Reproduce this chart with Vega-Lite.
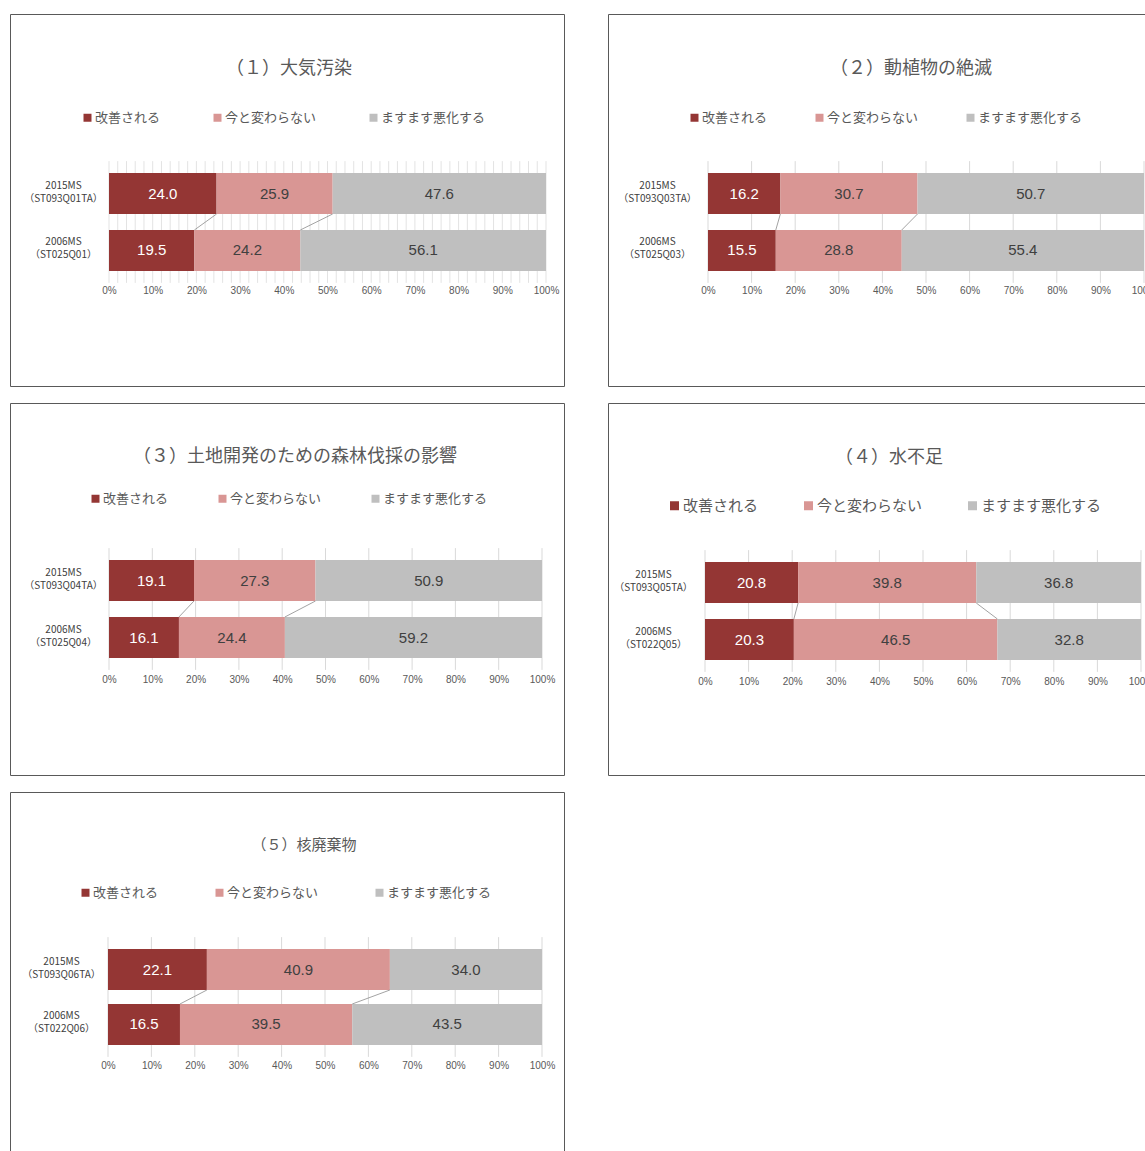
{
  "$schema": "https://vega.github.io/schema/vega-lite/v6.json",
  "background": "white",
  "padding": {"left": 9, "top": 13, "right": 0, "bottom": 0},
  "columns": 2,
  "spacing": {"row": 15, "column": 42},
  "resolve": {"scale": {"color": "independent", "x": "independent", "y": "independent"}, "legend": {"color": "independent"}},
  "data": {"name": "d"},
  "datasets": {
    "d": [
      {"p": 1, "row": "2015MS|（ST093Q01TA）", "yr": "2015MS", "resp": "改善される", "o": 0, "v": 24.0},
      {"p": 1, "row": "2015MS|（ST093Q01TA）", "yr": "2015MS", "resp": "今と変わらない", "o": 1, "v": 25.9},
      {"p": 1, "row": "2015MS|（ST093Q01TA）", "yr": "2015MS", "resp": "ますます悪化する", "o": 2, "v": 47.6},
      {"p": 1, "row": "2006MS|（ST025Q01）", "yr": "2006MS", "resp": "改善される", "o": 0, "v": 19.5},
      {"p": 1, "row": "2006MS|（ST025Q01）", "yr": "2006MS", "resp": "今と変わらない", "o": 1, "v": 24.2},
      {"p": 1, "row": "2006MS|（ST025Q01）", "yr": "2006MS", "resp": "ますます悪化する", "o": 2, "v": 56.1},
      {"p": 2, "row": "2015MS|（ST093Q03TA）", "yr": "2015MS", "resp": "改善される", "o": 0, "v": 16.2},
      {"p": 2, "row": "2015MS|（ST093Q03TA）", "yr": "2015MS", "resp": "今と変わらない", "o": 1, "v": 30.7},
      {"p": 2, "row": "2015MS|（ST093Q03TA）", "yr": "2015MS", "resp": "ますます悪化する", "o": 2, "v": 50.7},
      {"p": 2, "row": "2006MS|（ST025Q03）", "yr": "2006MS", "resp": "改善される", "o": 0, "v": 15.5},
      {"p": 2, "row": "2006MS|（ST025Q03）", "yr": "2006MS", "resp": "今と変わらない", "o": 1, "v": 28.8},
      {"p": 2, "row": "2006MS|（ST025Q03）", "yr": "2006MS", "resp": "ますます悪化する", "o": 2, "v": 55.4},
      {"p": 3, "row": "2015MS|（ST093Q04TA）", "yr": "2015MS", "resp": "改善される", "o": 0, "v": 19.1},
      {"p": 3, "row": "2015MS|（ST093Q04TA）", "yr": "2015MS", "resp": "今と変わらない", "o": 1, "v": 27.3},
      {"p": 3, "row": "2015MS|（ST093Q04TA）", "yr": "2015MS", "resp": "ますます悪化する", "o": 2, "v": 50.9},
      {"p": 3, "row": "2006MS|（ST025Q04）", "yr": "2006MS", "resp": "改善される", "o": 0, "v": 16.1},
      {"p": 3, "row": "2006MS|（ST025Q04）", "yr": "2006MS", "resp": "今と変わらない", "o": 1, "v": 24.4},
      {"p": 3, "row": "2006MS|（ST025Q04）", "yr": "2006MS", "resp": "ますます悪化する", "o": 2, "v": 59.2},
      {"p": 4, "row": "2015MS|（ST093Q05TA）", "yr": "2015MS", "resp": "改善される", "o": 0, "v": 20.8},
      {"p": 4, "row": "2015MS|（ST093Q05TA）", "yr": "2015MS", "resp": "今と変わらない", "o": 1, "v": 39.8},
      {"p": 4, "row": "2015MS|（ST093Q05TA）", "yr": "2015MS", "resp": "ますます悪化する", "o": 2, "v": 36.8},
      {"p": 4, "row": "2006MS|（ST022Q05）", "yr": "2006MS", "resp": "改善される", "o": 0, "v": 20.3},
      {"p": 4, "row": "2006MS|（ST022Q05）", "yr": "2006MS", "resp": "今と変わらない", "o": 1, "v": 46.5},
      {"p": 4, "row": "2006MS|（ST022Q05）", "yr": "2006MS", "resp": "ますます悪化する", "o": 2, "v": 32.8},
      {"p": 5, "row": "2015MS|（ST093Q06TA）", "yr": "2015MS", "resp": "改善される", "o": 0, "v": 22.1},
      {"p": 5, "row": "2015MS|（ST093Q06TA）", "yr": "2015MS", "resp": "今と変わらない", "o": 1, "v": 40.9},
      {"p": 5, "row": "2015MS|（ST093Q06TA）", "yr": "2015MS", "resp": "ますます悪化する", "o": 2, "v": 34.0},
      {"p": 5, "row": "2006MS|（ST022Q06）", "yr": "2006MS", "resp": "改善される", "o": 0, "v": 16.5},
      {"p": 5, "row": "2006MS|（ST022Q06）", "yr": "2006MS", "resp": "今と変わらない", "o": 1, "v": 39.5},
      {"p": 5, "row": "2006MS|（ST022Q06）", "yr": "2006MS", "resp": "ますます悪化する", "o": 2, "v": 43.5}
    ],
    "fine": [
      {"t": 0}, {"t": 0.02}, {"t": 0.04}, {"t": 0.06}, {"t": 0.08}, {"t": 0.1}, {"t": 0.12}, {"t": 0.14}, {"t": 0.16}, {"t": 0.18},
      {"t": 0.2}, {"t": 0.22}, {"t": 0.24}, {"t": 0.26}, {"t": 0.28}, {"t": 0.3}, {"t": 0.32}, {"t": 0.34}, {"t": 0.36}, {"t": 0.38},
      {"t": 0.4}, {"t": 0.42}, {"t": 0.44}, {"t": 0.46}, {"t": 0.48}, {"t": 0.5}, {"t": 0.52}, {"t": 0.54}, {"t": 0.56}, {"t": 0.58},
      {"t": 0.6}, {"t": 0.62}, {"t": 0.64}, {"t": 0.66}, {"t": 0.68}, {"t": 0.7}, {"t": 0.72}, {"t": 0.74}, {"t": 0.76}, {"t": 0.78},
      {"t": 0.8}, {"t": 0.82}, {"t": 0.84}, {"t": 0.86}, {"t": 0.88}, {"t": 0.9}, {"t": 0.92}, {"t": 0.94}, {"t": 0.96}, {"t": 0.98}, {"t": 1}
    ],
    "tens": [
      {"t": 0}, {"t": 0.1}, {"t": 0.2}, {"t": 0.3}, {"t": 0.4}, {"t": 0.5}, {"t": 0.6}, {"t": 0.7}, {"t": 0.8}, {"t": 0.9}, {"t": 1}
    ]
  },
  "concat": [
    {
      "width": 554, "height": 372,
      "title": {"text": "（１）大気汚染", "dx": 2, "offset": -64},
      "layer": [
        {
          "data": {"name": "fine"},
          "mark": {"type": "rule", "color": "#e3e3e3", "strokeWidth": 1},
          "encoding": {
            "x": {"field": "t", "type": "quantitative", "title": null},
            "y": {"datum": "2015MS|（ST093Q01TA）", "type": "nominal", "bandPosition": -0.29, "title": null},
            "y2": {"datum": "2006MS|（ST025Q01）", "bandPosition": 1.29}
          }
        },
        {
          "transform": [
            {"filter": "datum.p == 1"},
            {"stack": "v", "groupby": ["row"], "sort": [{"field": "o"}], "offset": "normalize", "as": ["x0", "x1"]}
          ],
          "mark": {"type": "bar"},
          "encoding": {
            "y": {"field": "row", "type": "nominal", "title": null,
              "scale": {"domain": ["2015MS|（ST093Q01TA）", "2006MS|（ST025Q01）"], "range": [159, 257], "paddingInner": 0.2807, "paddingOuter": 0},
              "axis": {"offset": -53}},
            "x": {"field": "x0", "type": "quantitative", "title": null,
              "scale": {"domain": [0, 1], "range": [99, 536], "nice": false, "zero": false},
              "axis": {"offset": -101, "values": [0, 0.1, 0.2, 0.3, 0.4, 0.5, 0.6, 0.7, 0.8, 0.9, 1], "format": ".0%"}},
            "x2": {"field": "x1"},
            "color": {"field": "resp", "type": "nominal",
              "scale": {"domain": ["改善される", "今と変わらない", "ますます悪化する"], "range": ["#943634", "#d99694", "#bfbfbf"]},
              "legend": {"legendX": 71, "legendY": 97, "columnPadding": 50}}
          }
        },
        {
          "transform": [
            {"filter": "datum.p == 1"},
            {"stack": "v", "groupby": ["row"], "sort": [{"field": "o"}], "offset": "normalize", "as": ["x0", "x1"]},
            {"calculate": "(datum.x0 + datum.x1) / 2", "as": "xm"}
          ],
          "mark": {"type": "text", "font": "Liberation Sans", "fontSize": 15, "baseline": "middle", "align": "center"},
          "encoding": {
            "y": {"field": "row", "type": "nominal", "title": null},
            "x": {"field": "xm", "type": "quantitative", "title": null},
            "text": {"field": "v", "type": "quantitative", "format": ".1f"},
            "color": {"condition": {"test": "datum.o == 0", "value": "#ffffff"}, "value": "#404040"}
          }
        },
        {
          "transform": [
            {"filter": "datum.p == 1"},
            {"stack": "v", "groupby": ["row"], "sort": [{"field": "o"}], "offset": "normalize", "as": ["x0", "x1"]},
            {"filter": "datum.o < 2"},
            {"pivot": "yr", "value": "x1", "groupby": ["resp"]}
          ],
          "mark": {"type": "rule", "color": "#8c8c8c", "strokeWidth": 0.8},
          "encoding": {
            "x": {"field": "2015MS", "type": "quantitative", "title": null},
            "x2": {"field": "2006MS"},
            "y": {"datum": "2015MS|（ST093Q01TA）", "type": "nominal", "bandPosition": 1, "title": null},
            "y2": {"datum": "2006MS|（ST025Q01）", "bandPosition": 0}
          }
        }
      ]
    },
    {
      "width": 554, "height": 372,
      "title": {"text": "（２）動植物の絶滅", "dx": 26, "offset": -64},
      "layer": [
        {
          "data": {"name": "tens"},
          "mark": {"type": "rule", "color": "#d9d9d9", "strokeWidth": 1},
          "encoding": {
            "x": {"field": "t", "type": "quantitative", "title": null},
            "y": {"datum": "2015MS|（ST093Q03TA）", "type": "nominal", "bandPosition": -0.29, "title": null},
            "y2": {"datum": "2006MS|（ST025Q03）", "bandPosition": 1.29}
          }
        },
        {
          "transform": [
            {"filter": "datum.p == 2"},
            {"stack": "v", "groupby": ["row"], "sort": [{"field": "o"}], "offset": "normalize", "as": ["x0", "x1"]}
          ],
          "mark": {"type": "bar"},
          "encoding": {
            "y": {"field": "row", "type": "nominal", "title": null,
              "scale": {"domain": ["2015MS|（ST093Q03TA）", "2006MS|（ST025Q03）"], "range": [159, 257], "paddingInner": 0.2807, "paddingOuter": 0},
              "axis": {"offset": -49}},
            "x": {"field": "x0", "type": "quantitative", "title": null,
              "scale": {"domain": [0, 1], "range": [100, 536], "nice": false, "zero": false},
              "axis": {"offset": -101, "values": [0, 0.1, 0.2, 0.3, 0.4, 0.5, 0.6, 0.7, 0.8, 0.9, 1], "format": ".0%"}},
            "x2": {"field": "x1"},
            "color": {"field": "resp", "type": "nominal",
              "scale": {"domain": ["改善される", "今と変わらない", "ますます悪化する"], "range": ["#943634", "#d99694", "#bfbfbf"]},
              "legend": {"legendX": 80, "legendY": 97, "columnPadding": 45}}
          }
        },
        {
          "transform": [
            {"filter": "datum.p == 2"},
            {"stack": "v", "groupby": ["row"], "sort": [{"field": "o"}], "offset": "normalize", "as": ["x0", "x1"]},
            {"calculate": "(datum.x0 + datum.x1) / 2", "as": "xm"}
          ],
          "mark": {"type": "text", "font": "Liberation Sans", "fontSize": 15, "baseline": "middle", "align": "center"},
          "encoding": {
            "y": {"field": "row", "type": "nominal", "title": null},
            "x": {"field": "xm", "type": "quantitative", "title": null},
            "text": {"field": "v", "type": "quantitative", "format": ".1f"},
            "color": {"condition": {"test": "datum.o == 0", "value": "#ffffff"}, "value": "#404040"}
          }
        },
        {
          "transform": [
            {"filter": "datum.p == 2"},
            {"stack": "v", "groupby": ["row"], "sort": [{"field": "o"}], "offset": "normalize", "as": ["x0", "x1"]},
            {"filter": "datum.o < 2"},
            {"pivot": "yr", "value": "x1", "groupby": ["resp"]}
          ],
          "mark": {"type": "rule", "color": "#8c8c8c", "strokeWidth": 0.8},
          "encoding": {
            "x": {"field": "2015MS", "type": "quantitative", "title": null},
            "x2": {"field": "2006MS"},
            "y": {"datum": "2015MS|（ST093Q03TA）", "type": "nominal", "bandPosition": 1, "title": null},
            "y2": {"datum": "2006MS|（ST025Q03）", "bandPosition": 0}
          }
        }
      ]
    },
    {
      "width": 554, "height": 372,
      "title": {"text": "（３）土地開発のための森林伐採の影響", "dx": 8, "offset": -63},
      "layer": [
        {
          "data": {"name": "tens"},
          "mark": {"type": "rule", "color": "#d9d9d9", "strokeWidth": 1},
          "encoding": {
            "x": {"field": "t", "type": "quantitative", "title": null},
            "y": {"datum": "2015MS|（ST093Q04TA）", "type": "nominal", "bandPosition": -0.29, "title": null},
            "y2": {"datum": "2006MS|（ST025Q04）", "bandPosition": 1.29}
          }
        },
        {
          "transform": [
            {"filter": "datum.p == 3"},
            {"stack": "v", "groupby": ["row"], "sort": [{"field": "o"}], "offset": "normalize", "as": ["x0", "x1"]}
          ],
          "mark": {"type": "bar"},
          "encoding": {
            "y": {"field": "row", "type": "nominal", "title": null,
              "scale": {"domain": ["2015MS|（ST093Q04TA）", "2006MS|（ST025Q04）"], "range": [157, 255], "paddingInner": 0.2807, "paddingOuter": 0},
              "axis": {"offset": -53}},
            "x": {"field": "x0", "type": "quantitative", "title": null,
              "scale": {"domain": [0, 1], "range": [99, 532], "nice": false, "zero": false},
              "axis": {"offset": -101, "values": [0, 0.1, 0.2, 0.3, 0.4, 0.5, 0.6, 0.7, 0.8, 0.9, 1], "format": ".0%"}},
            "x2": {"field": "x1"},
            "color": {"field": "resp", "type": "nominal",
              "scale": {"domain": ["改善される", "今と変わらない", "ますます悪化する"], "range": ["#943634", "#d99694", "#bfbfbf"]},
              "legend": {"legendX": 79, "legendY": 89, "columnPadding": 47}}
          }
        },
        {
          "transform": [
            {"filter": "datum.p == 3"},
            {"stack": "v", "groupby": ["row"], "sort": [{"field": "o"}], "offset": "normalize", "as": ["x0", "x1"]},
            {"calculate": "(datum.x0 + datum.x1) / 2", "as": "xm"}
          ],
          "mark": {"type": "text", "font": "Liberation Sans", "fontSize": 15, "baseline": "middle", "align": "center"},
          "encoding": {
            "y": {"field": "row", "type": "nominal", "title": null},
            "x": {"field": "xm", "type": "quantitative", "title": null},
            "text": {"field": "v", "type": "quantitative", "format": ".1f"},
            "color": {"condition": {"test": "datum.o == 0", "value": "#ffffff"}, "value": "#404040"}
          }
        },
        {
          "transform": [
            {"filter": "datum.p == 3"},
            {"stack": "v", "groupby": ["row"], "sort": [{"field": "o"}], "offset": "normalize", "as": ["x0", "x1"]},
            {"filter": "datum.o < 2"},
            {"pivot": "yr", "value": "x1", "groupby": ["resp"]}
          ],
          "mark": {"type": "rule", "color": "#8c8c8c", "strokeWidth": 0.8},
          "encoding": {
            "x": {"field": "2015MS", "type": "quantitative", "title": null},
            "x2": {"field": "2006MS"},
            "y": {"datum": "2015MS|（ST093Q04TA）", "type": "nominal", "bandPosition": 1, "title": null},
            "y2": {"datum": "2006MS|（ST025Q04）", "bandPosition": 0}
          }
        }
      ]
    },
    {
      "width": 554, "height": 372,
      "title": {"text": "（４）水不足", "dx": 4, "offset": -64},
      "layer": [
        {
          "data": {"name": "tens"},
          "mark": {"type": "rule", "color": "#d9d9d9", "strokeWidth": 1},
          "encoding": {
            "x": {"field": "t", "type": "quantitative", "title": null},
            "y": {"datum": "2015MS|（ST093Q05TA）", "type": "nominal", "bandPosition": -0.29, "title": null},
            "y2": {"datum": "2006MS|（ST022Q05）", "bandPosition": 1.29}
          }
        },
        {
          "transform": [
            {"filter": "datum.p == 4"},
            {"stack": "v", "groupby": ["row"], "sort": [{"field": "o"}], "offset": "normalize", "as": ["x0", "x1"]}
          ],
          "mark": {"type": "bar"},
          "encoding": {
            "y": {"field": "row", "type": "nominal", "title": null,
              "scale": {"domain": ["2015MS|（ST093Q05TA）", "2006MS|（ST022Q05）"], "range": [159, 257], "paddingInner": 0.2807, "paddingOuter": 0},
              "axis": {"offset": -45}},
            "x": {"field": "x0", "type": "quantitative", "title": null,
              "scale": {"domain": [0, 1], "range": [97, 533], "nice": false, "zero": false},
              "axis": {"offset": -99, "values": [0, 0.1, 0.2, 0.3, 0.4, 0.5, 0.6, 0.7, 0.8, 0.9, 1], "format": ".0%"}},
            "x2": {"field": "x1"},
            "color": {"field": "resp", "type": "nominal",
              "scale": {"domain": ["改善される", "今と変わらない", "ますます悪化する"], "range": ["#943634", "#d99694", "#bfbfbf"]},
              "legend": {"legendX": 59, "legendY": 95, "columnPadding": 42, "labelFontSize": 15, "symbolSize": 81}}
          }
        },
        {
          "transform": [
            {"filter": "datum.p == 4"},
            {"stack": "v", "groupby": ["row"], "sort": [{"field": "o"}], "offset": "normalize", "as": ["x0", "x1"]},
            {"calculate": "(datum.x0 + datum.x1) / 2", "as": "xm"}
          ],
          "mark": {"type": "text", "font": "Liberation Sans", "fontSize": 15, "baseline": "middle", "align": "center"},
          "encoding": {
            "y": {"field": "row", "type": "nominal", "title": null},
            "x": {"field": "xm", "type": "quantitative", "title": null},
            "text": {"field": "v", "type": "quantitative", "format": ".1f"},
            "color": {"condition": {"test": "datum.o == 0", "value": "#ffffff"}, "value": "#404040"}
          }
        },
        {
          "transform": [
            {"filter": "datum.p == 4"},
            {"stack": "v", "groupby": ["row"], "sort": [{"field": "o"}], "offset": "normalize", "as": ["x0", "x1"]},
            {"filter": "datum.o < 2"},
            {"pivot": "yr", "value": "x1", "groupby": ["resp"]}
          ],
          "mark": {"type": "rule", "color": "#8c8c8c", "strokeWidth": 0.8},
          "encoding": {
            "x": {"field": "2015MS", "type": "quantitative", "title": null},
            "x2": {"field": "2006MS"},
            "y": {"datum": "2015MS|（ST093Q05TA）", "type": "nominal", "bandPosition": 1, "title": null},
            "y2": {"datum": "2006MS|（ST022Q05）", "bandPosition": 0}
          }
        }
      ]
    },
    {
      "width": 554, "height": 372,
      "title": {"text": "（５）核廃棄物", "dx": 17, "offset": -61, "fontSize": 15},
      "layer": [
        {
          "data": {"name": "tens"},
          "mark": {"type": "rule", "color": "#d9d9d9", "strokeWidth": 1},
          "encoding": {
            "x": {"field": "t", "type": "quantitative", "title": null},
            "y": {"datum": "2015MS|（ST093Q06TA）", "type": "nominal", "bandPosition": -0.29, "title": null},
            "y2": {"datum": "2006MS|（ST022Q06）", "bandPosition": 1.29}
          }
        },
        {
          "transform": [
            {"filter": "datum.p == 5"},
            {"stack": "v", "groupby": ["row"], "sort": [{"field": "o"}], "offset": "normalize", "as": ["x0", "x1"]}
          ],
          "mark": {"type": "bar"},
          "encoding": {
            "y": {"field": "row", "type": "nominal", "title": null,
              "scale": {"domain": ["2015MS|（ST093Q06TA）", "2006MS|（ST022Q06）"], "range": [157, 253], "paddingInner": 0.2545, "paddingOuter": 0},
              "axis": {"offset": -51}},
            "x": {"field": "x0", "type": "quantitative", "title": null,
              "scale": {"domain": [0, 1], "range": [98, 532], "nice": false, "zero": false},
              "axis": {"offset": -104, "values": [0, 0.1, 0.2, 0.3, 0.4, 0.5, 0.6, 0.7, 0.8, 0.9, 1], "format": ".0%"}},
            "x2": {"field": "x1"},
            "color": {"field": "resp", "type": "nominal",
              "scale": {"domain": ["改善される", "今と変わらない", "ますます悪化する"], "range": ["#943634", "#d99694", "#bfbfbf"]},
              "legend": {"legendX": 69, "legendY": 94, "columnPadding": 54}}
          }
        },
        {
          "transform": [
            {"filter": "datum.p == 5"},
            {"stack": "v", "groupby": ["row"], "sort": [{"field": "o"}], "offset": "normalize", "as": ["x0", "x1"]},
            {"calculate": "(datum.x0 + datum.x1) / 2", "as": "xm"}
          ],
          "mark": {"type": "text", "font": "Liberation Sans", "fontSize": 15, "baseline": "middle", "align": "center"},
          "encoding": {
            "y": {"field": "row", "type": "nominal", "title": null},
            "x": {"field": "xm", "type": "quantitative", "title": null},
            "text": {"field": "v", "type": "quantitative", "format": ".1f"},
            "color": {"condition": {"test": "datum.o == 0", "value": "#ffffff"}, "value": "#404040"}
          }
        },
        {
          "transform": [
            {"filter": "datum.p == 5"},
            {"stack": "v", "groupby": ["row"], "sort": [{"field": "o"}], "offset": "normalize", "as": ["x0", "x1"]},
            {"filter": "datum.o < 2"},
            {"pivot": "yr", "value": "x1", "groupby": ["resp"]}
          ],
          "mark": {"type": "rule", "color": "#8c8c8c", "strokeWidth": 0.8},
          "encoding": {
            "x": {"field": "2015MS", "type": "quantitative", "title": null},
            "x2": {"field": "2006MS"},
            "y": {"datum": "2015MS|（ST093Q06TA）", "type": "nominal", "bandPosition": 1, "title": null},
            "y2": {"datum": "2006MS|（ST022Q06）", "bandPosition": 0}
          }
        }
      ]
    }
  ],
  "config": {
    "font": "Noto Sans CJK JP",
    "view": {"stroke": "#595959", "strokeWidth": 1},
    "axis": {"grid": false, "ticks": false, "domain": false, "labelPadding": 0, "zindex": 1},
    "axisX": {"labelFont": "Liberation Sans", "labelFontSize": 10, "labelColor": "#595959", "labelFlush": false},
    "axisY": {"labelFont": "Noto Sans CJK JP", "labelFontSize": 10, "labelColor": "#404040", "labelAlign": "center", "labelBaseline": "middle", "labelLineHeight": 13, "labelOffset": -8, "labelExpr": "split(datum.value, '|')"},
    "legend": {"orient": "none", "direction": "horizontal", "columns": 3, "title": null, "padding": 0, "symbolType": "square", "symbolSize": 64, "symbolStrokeWidth": 0, "labelFont": "Noto Sans CJK JP", "labelFontSize": 13, "labelColor": "#595959", "labelOffset": 1, "labelLimit": 300},
    "title": {"font": "Noto Sans CJK JP", "fontSize": 18, "fontWeight": "normal", "color": "#595959", "anchor": "middle", "frame": "group"}
  }
}
